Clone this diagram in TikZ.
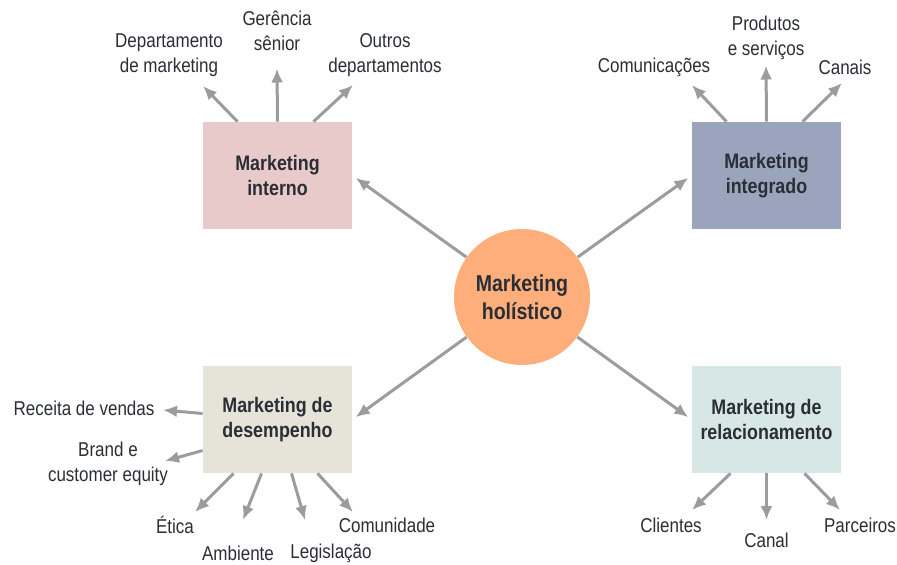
\documentclass[tikz,border=0pt]{standalone}
\usepackage{fontspec}
\setmainfont{Liberation Sans}[FakeStretch=0.85]
\usepackage{tikz}
\usetikzlibrary{shapes.geometric,positioning,calc,arrows.meta}

\definecolor{inkdark}{HTML}{2A2E35}
\definecolor{arrowgray}{HTML}{9C9C9E}
\definecolor{pinkbox}{HTML}{E8CACB}
\definecolor{bluebox}{HTML}{9AA5BD}
\definecolor{beigebox}{HTML}{E6E4D8}
\definecolor{tealbox}{HTML}{D6E7E6}
\definecolor{hubfill}{HTML}{FDAE7A}

\tikzstyle{arrow} = [line width=1.5pt, draw=arrowgray, -{Latex[length=7pt,width=6pt]}]
\tikzset{
 box/.style
  = {rectangle, minimum width=74.5pt, minimum height=53.5pt, align=center,
     text=inkdark, font=\fontsize{10.5}{12.5}\selectfont\bfseries},
 hub/.style
  = {circle, fill=hubfill, minimum size=68pt, inner sep=0pt, align=center,
     text=inkdark, font=\fontsize{11.5}{14}\selectfont\bfseries},
 lbl/.style
  = {align=center, inner sep=3pt, text=inkdark,
     font=\fontsize{10}{12.5}\selectfont},
}

\begin{document}
\begin{tikzpicture}[x=0.5pt, y=-0.5pt]
\useasboundingbox (0,0) rectangle (897,564);

% Hub
\node[hub] (holistico) at (522,297) {Marketing\\hol\'{\i}stico};

% Four boxes
\node[box, fill=pinkbox] (interno) at (277.5,175.5) {Marketing\\interno};
\node[box, fill=bluebox] (integrado) at (766.5,175.5) {Marketing\\integrado};
\node[box, fill=beigebox] (desemp) at (277.5,419.5) {Marketing de\\desempenho};
\node[box, fill=tealbox] (relac) at (766.5,419.5) {Marketing de\\relacionamento};

% Hub to boxes
\draw[arrow, shorten >=2pt] (holistico) -- (interno.east);
\draw[arrow, shorten >=2pt] (holistico) -- (integrado.west);
\draw[arrow, shorten >=2pt] (holistico) -- (desemp.east);
\draw[arrow, shorten >=2pt] (holistico) -- (relac.west);

% Labels around interno
\node[lbl] (depto) at (169,55) {Departamento\\de marketing};
\node[lbl] (gerencia) at (277,30.5) {Gerência\\sênior};
\node[lbl] (outros) at (385,55) {Outros\\departamentos};
\draw[arrow] ($(interno.north)+(-40,0)$) -- ($(depto)+(34,31)$);
\draw[arrow] (interno.north) -- ($(gerencia)+(0,38)$);
\draw[arrow] ($(interno.north)+(36,0)$) -- ($(outros)+(-32,30)$);

% Labels around integrado
\node[lbl] (comunic) at (654,67) {Comunicações};
\node[lbl] (produtos) at (766,37.5) {Produtos\\e serviços};
\node[lbl] (canais) at (845,67) {Canais};
\draw[arrow] ($(integrado.north)+(-40,0)$) -- ($(comunic)+(38,18)$);
\draw[arrow] (integrado.north) -- ($(produtos)+(0,28)$);
\draw[arrow] ($(integrado.north)+(36,0)$) -- ($(canais)+(-3,16)$);

% Labels around desempenho
\node[lbl] (receita) at (84,408) {Receita de vendas};
\node[lbl] (brand) at (108,464) {Brand e\\customer equity};
\node[lbl] (etica) at (175,525) {Ética};
\node[lbl] (ambiente) at (238,553) {Ambiente};
\node[lbl] (legis) at (331,553) {Legislação};
\node[lbl] (comunid) at (387,525) {Comunidade};
\draw[arrow] ($(desemp.west)+(0,-6)$) -- ($(receita)+(79,2)$);
\draw[arrow] ($(desemp.west)+(0,31)$) -- ($(brand)+(57,-3)$);
\draw[arrow] ($(desemp.south)+(-44,0)$) -- ($(etica)+(20,-13)$);
\draw[arrow] ($(desemp.south)+(-16,0)$) -- ($(ambiente)+(5,-33)$);
\draw[arrow] ($(desemp.south)+(14,0)$) -- ($(legis)+(-26,-33)$);
\draw[arrow] ($(desemp.south)+(40,0)$) -- ($(comunid)+(-34,-13)$);

% Labels around relacionamento
\node[lbl] (clientes) at (671,525) {Clientes};
\node[lbl] (canal) at (766.5,540) {Canal};
\node[lbl] (parceiros) at (860,525) {Parceiros};
\draw[arrow] ($(relac.south)+(-36,0)$) -- ($(clientes)+(21,-15)$);
\draw[arrow] (relac.south) -- ($(canal)+(0,-20)$);
\draw[arrow] ($(relac.south)+(38,0)$) -- ($(parceiros)+(-20,-15)$);

\end{tikzpicture}
\end{document}
